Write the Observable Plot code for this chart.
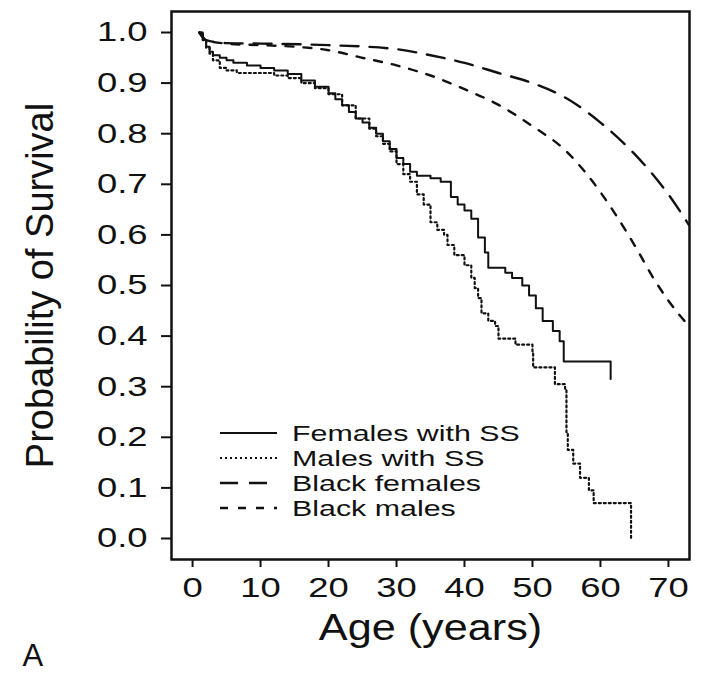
<!DOCTYPE html>
<html>
<head>
<meta charset="utf-8">
<script src="https://cdn.jsdelivr.net/npm/d3@7"></script>
<script src="https://cdn.jsdelivr.net/npm/@observablehq/plot@0.6"></script>
<style>
  html, body { margin: 0; padding: 0; background: #fff; }
  #wrap { position: relative; width: 701px; height: 673px; font-family: "Liberation Sans", Arial, sans-serif; }
  #legend { position: absolute; left: 0; top: 0; pointer-events: none; }
</style>
</head>
<body>
<div id="wrap"></div>
<script>
// ---- Data ----
const seriesNames = ["Females with SS", "Males with SS", "Black females", "Black males"];

// Kaplan-Meier, females with SS (step curve)
const femSSAge  = [1, 1.5, 2, 2.5, 3, 4, 5, 6, 8, 10, 12, 14, 16, 18, 20, 21, 22, 23, 24, 25, 26, 27, 28, 29, 30, 31, 32, 33, 35, 36.5, 38, 39, 40, 41, 42, 43, 43.5, 46, 47, 48.5, 49.5, 50.5, 51.5, 53, 54, 54.6, 61.5];
const femSSSurv = [1.0, 0.985, 0.972, 0.962, 0.955, 0.95, 0.945, 0.94, 0.935, 0.93, 0.925, 0.918, 0.905, 0.893, 0.88, 0.868, 0.856, 0.843, 0.83, 0.822, 0.812, 0.8, 0.785, 0.77, 0.752, 0.74, 0.725, 0.717, 0.712, 0.705, 0.675, 0.66, 0.648, 0.632, 0.595, 0.565, 0.535, 0.525, 0.515, 0.5, 0.48, 0.455, 0.43, 0.41, 0.39, 0.35, 0.315];

// Kaplan-Meier, males with SS (step curve)
const malSSAge  = [1, 1.5, 2, 2.5, 3, 4, 5, 6.5, 12, 14, 16, 18, 20, 22, 24, 26, 27, 28, 29, 30, 31, 32, 33, 34, 35, 36, 37, 37.5, 38.5, 40, 41, 41.5, 42, 42.5, 43.5, 44.5, 45, 47.5, 50, 50.1, 53.3, 54.8, 55, 55.2, 56, 57, 58.3, 59, 64.5];
const malSSSurv = [1.0, 0.985, 0.97, 0.958, 0.945, 0.93, 0.925, 0.92, 0.915, 0.91, 0.9, 0.89, 0.878, 0.856, 0.83, 0.81, 0.795, 0.78, 0.765, 0.74, 0.72, 0.705, 0.68, 0.66, 0.625, 0.61, 0.6, 0.58, 0.56, 0.54, 0.515, 0.495, 0.475, 0.445, 0.43, 0.42, 0.395, 0.383, 0.37, 0.338, 0.305, 0.295, 0.21, 0.175, 0.148, 0.12, 0.095, 0.07, 0.0];

// Life-table reference curves
const blkFemAge  = [1, 2, 5, 10, 20, 30, 35, 40, 45, 50, 55, 60, 65, 70, 73];
const blkFemSurv = [1.0, 0.985, 0.979, 0.978, 0.975, 0.967, 0.955, 0.94, 0.92, 0.9, 0.87, 0.822, 0.76, 0.68, 0.62];

const blkMalAge  = [1, 2, 5, 10, 15, 20, 25, 30, 35, 40, 45, 50, 55, 58, 62, 65, 68, 70, 73];
const blkMalSurv = [1.0, 0.985, 0.978, 0.975, 0.972, 0.965, 0.95, 0.935, 0.915, 0.888, 0.857, 0.815, 0.765, 0.72, 0.645, 0.58, 0.51, 0.47, 0.42];

const xTicks = [0, 10, 20, 30, 40, 50, 60, 70];
const yTicks = [0, 0.1, 0.2, 0.3, 0.4, 0.5, 0.6, 0.7, 0.8, 0.9, 1.0];
const xLabel = "Age (years)";
const yLabel = "Probability of Survival";
const panelLabel = "A";

// ---- Build tables ----
const toRows = (ages, vals) => ages.map((a, i) => ({age: a, surv: vals[i]}));
const femSS = toRows(femSSAge, femSSSurv);
const malSS = toRows(malSSAge, malSSSurv);
const blkFem = toRows(blkFemAge, blkFemSurv);
const blkMal = toRows(blkMalAge, blkMalSurv);

const styles = [
  {stroke: "#111", strokeWidth: 2, strokeDasharray: null},
  {stroke: "#111", strokeWidth: 2.2, strokeDasharray: "2,3"},
  {stroke: "#111", strokeWidth: 2.4, strokeDasharray: "18,11"},
  {stroke: "#111", strokeWidth: 2.4, strokeDasharray: "8,10"}
];

const font = "'Liberation Sans', Arial, Helvetica, sans-serif";
// the source lettering is drawn wider than it is tall
const wide = 1.3;

const chart = Plot.plot({
  width: 701,
  height: 673,
  marginLeft: 171,
  marginRight: 12,
  marginTop: 11,
  marginBottom: 114,
  style: {fontFamily: font, fontSize: "28px", color: "#111", background: "#fff"},
  x: {domain: [-3.1, 73.1]},
  y: {domain: [-0.0415, 1.0415]},
  marks: [
    Plot.line(blkFem, {x: "age", y: "surv", curve: "monotone-x", ...styles[2]}),
    Plot.line(blkMal, {x: "age", y: "surv", curve: "monotone-x", ...styles[3]}),
    Plot.line(malSS, {x: "age", y: "surv", curve: "step-after", ...styles[1]}),
    Plot.line(femSS, {x: "age", y: "surv", curve: "step-after", ...styles[0]}),
    Plot.frame({stroke: "#111", strokeWidth: 2.5}),
    Plot.axisX({ticks: xTicks, tickSize: 8, tickPadding: 10, strokeWidth: 2, label: null, fontSize: 28}),
    Plot.axisY({ticks: yTicks, tickSize: 10, tickPadding: 14, strokeWidth: 2, tickFormat: d3.format(".1f"), label: null, fontSize: 28}),
    Plot.text([yLabel], {text: d => d, frameAnchor: "left", textAnchor: "middle", lineAnchor: "middle", dx: -131, rotate: -90, fontSize: 38, fill: "#111"}),
    Plot.text([xLabel], {text: d => d, frameAnchor: "bottom", textAnchor: "middle", lineAnchor: "middle", dy: 69, fontSize: 36, fill: "#111"}),
    Plot.text([panelLabel], {text: d => d, frameAnchor: "bottom-left", textAnchor: "start", lineAnchor: "middle", dx: -149, dy: 97, fontSize: 31, fill: "#111"})
  ]
});

const wrap = document.getElementById("wrap");
wrap.appendChild(chart);

function stretch(el, k) {
  const L = el.getComputedTextLength();
  if (L > 0) {
    el.setAttribute("textLength", (L * k).toFixed(1));
    el.setAttribute("lengthAdjust", "spacingAndGlyphs");
  }
}

// widen tick labels and the x title like the source lettering
d3.select(chart).selectAll('g[aria-label$="tick label"] text').each(function() { stretch(this, wide); });
d3.select(chart).selectAll("text").each(function() {
  if (this.textContent === xLabel) stretch(this, 1.2);
});

// ---- Legend (inside plot area, overlaid) ----
const leg = d3.select(wrap).append("svg")
  .attr("id", "legend")
  .attr("width", 701).attr("height", 673);
const legX0 = 220, legX1 = 277, legTextX = 292, legY0 = 433, legDY = 25;
seriesNames.forEach((name, i) => {
  const y = legY0 + i * legDY;
  const s = styles[i];
  const ln = leg.append("line")
    .attr("x1", legX0).attr("x2", legX1).attr("y1", y).attr("y2", y)
    .attr("stroke", s.stroke).attr("stroke-width", s.strokeWidth);
  if (s.strokeDasharray) ln.attr("stroke-dasharray", s.strokeDasharray);
  const t = leg.append("text")
    .attr("x", legTextX).attr("y", y)
    .attr("dy", "0.35em")
    .attr("font-family", font)
    .attr("font-size", 22)
    .attr("fill", "#111")
    .text(name);
  stretch(t.node(), 1.38);
});
</script>
</body>
</html>
